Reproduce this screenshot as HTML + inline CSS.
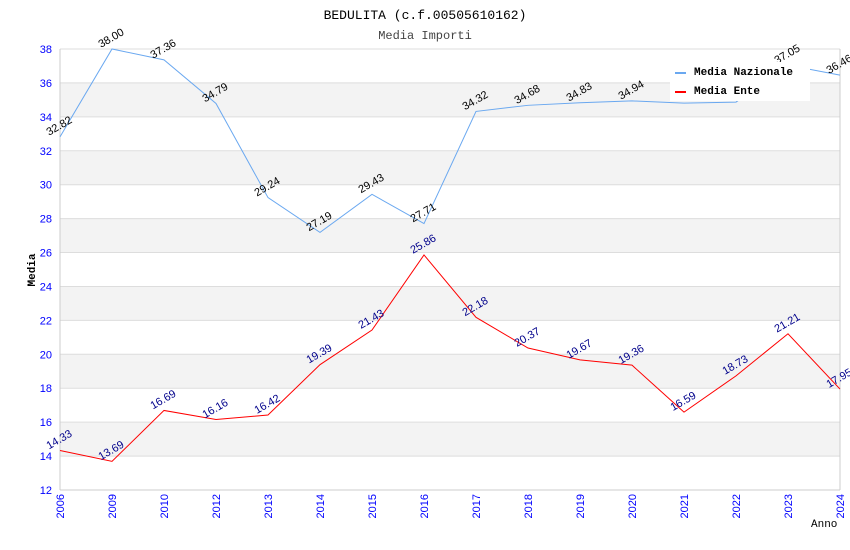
<!DOCTYPE html>
<html><head><meta charset="utf-8"><style>
body{margin:0;background:#fff;width:850px;height:550px;overflow:hidden}
svg{display:block}
</style></head><body>
<svg id="chart" width="850" height="550" xmlns="http://www.w3.org/2000/svg">
<text x="425" y="19" text-anchor="middle" font-family="Liberation Mono, monospace" font-size="13" fill="#000">BEDULITA (c.f.00505610162)</text>
<text x="425" y="39" text-anchor="middle" font-family="Liberation Mono, monospace" font-size="12" fill="#444">Media Importi</text>
<g id="bands"></g><g id="axes"></g><g id="series"></g>
<text transform="translate(35,270) rotate(-90)" text-anchor="middle" font-family="Liberation Mono, monospace" font-size="11" font-weight="bold">Media</text>
<text x="811" y="527" font-family="Liberation Mono, monospace" font-size="11">Anno</text>
<g>
<rect x="670" y="62" width="140" height="39" fill="#fff"/>
<line x1="675" y1="73" x2="686" y2="73" stroke="#6aa8f0" stroke-width="2"/>
<text x="694" y="75" font-family="Liberation Mono, monospace" font-size="11" font-weight="bold">Media Nazionale</text>
<line x1="675" y1="92" x2="686" y2="92" stroke="#f00" stroke-width="2"/>
<text x="694" y="94" font-family="Liberation Mono, monospace" font-size="11" font-weight="bold">Media Ente</text>
</g>
</svg>
<script>
const categories=["2006","2009","2010","2012","2013","2014","2015","2016","2017","2018","2019","2020","2021","2022","2023","2024"];
const nazionale=[32.82,38.00,37.36,34.79,29.24,27.19,29.43,27.71,34.32,34.68,34.83,34.94,34.81,34.87,37.05,36.46];
const ente=[14.33,13.69,16.69,16.16,16.42,19.39,21.43,25.86,22.18,20.37,19.67,19.36,16.59,18.73,21.21,17.95];
const yTicks=[12,14,16,18,20,22,24,26,28,30,32,34,36,38];
const hideLabels=[12,13];
const X0=60,X1=840,Y0=490,Y1=49,YMIN=12,YMAX=38;
const NS="http://www.w3.org/2000/svg";
const xs=i=>X0+i*(X1-X0)/(categories.length-1);
const ys=v=>Y0-(v-YMIN)*(Y0-Y1)/(YMAX-YMIN);
function mk(t,a,p){const e=document.createElementNS(NS,t);for(const k in a)e.setAttribute(k,a[k]);p.appendChild(e);return e;}
const bands=document.getElementById('bands'),axes=document.getElementById('axes'),ser=document.getElementById('series');
for(let i=0;i<yTicks.length-1;i++){
  const lo=yTicks[i],hi=yTicks[i+1];
  const r=mk('rect',{x:X0,y:ys(hi),width:X1-X0,height:ys(lo)-ys(hi),fill:(i%2===1)?'#f3f3f3':'#fff'},bands);
  
  
}
yTicks.forEach(v=>{
  const l=mk('line',{x1:X0,x2:X1,y1:ys(v),y2:ys(v),stroke:'#ddd'},axes);
  
  
  const t=mk('text',{x:X0-8,y:ys(v)+4,'text-anchor':'end','font-family':'Liberation Sans, sans-serif','font-size':'11',fill:'#00f'},axes);
  t.textContent=v;
  
  
});
mk('line',{x1:X0,x2:X0,y1:Y1,y2:Y0,stroke:'#ccc'},axes);
mk('line',{x1:X1,x2:X1,y1:Y1,y2:Y0,stroke:'#ccc'},axes);
mk('line',{x1:X0,x2:X1,y1:Y0,y2:Y0,stroke:'#ccc'},axes);
categories.forEach((c,i)=>{
  const t=mk('text',{transform:`translate(${xs(i)+4},${Y0+4}) rotate(-90)`,'text-anchor':'end','font-family':'Liberation Sans, sans-serif','font-size':'11',fill:'#00f'},axes);
  t.textContent=c;
  
  
});
function drawSeries(vals,color,labColor,name,hide){
  const p=mk('polyline',{points:vals.map((v,i)=>xs(i)+','+ys(v)).join(' '),fill:'none',stroke:color,'stroke-width':1},ser);
  
  
  vals.forEach((v,i)=>{
    if(hide.includes(i))return;
    const t=mk('text',{transform:`translate(${xs(i)-11},${ys(v)-1}) rotate(-30)`,'font-family':'Liberation Sans, sans-serif','font-size':'11',fill:labColor},ser);
    t.textContent=v.toFixed(2);
    
    
  });
}
drawSeries(nazionale,'#6aa8f0','#000','nazionale',hideLabels);
drawSeries(ente,'#f00','#00008b','ente',[]);
</script>
</body></html>
